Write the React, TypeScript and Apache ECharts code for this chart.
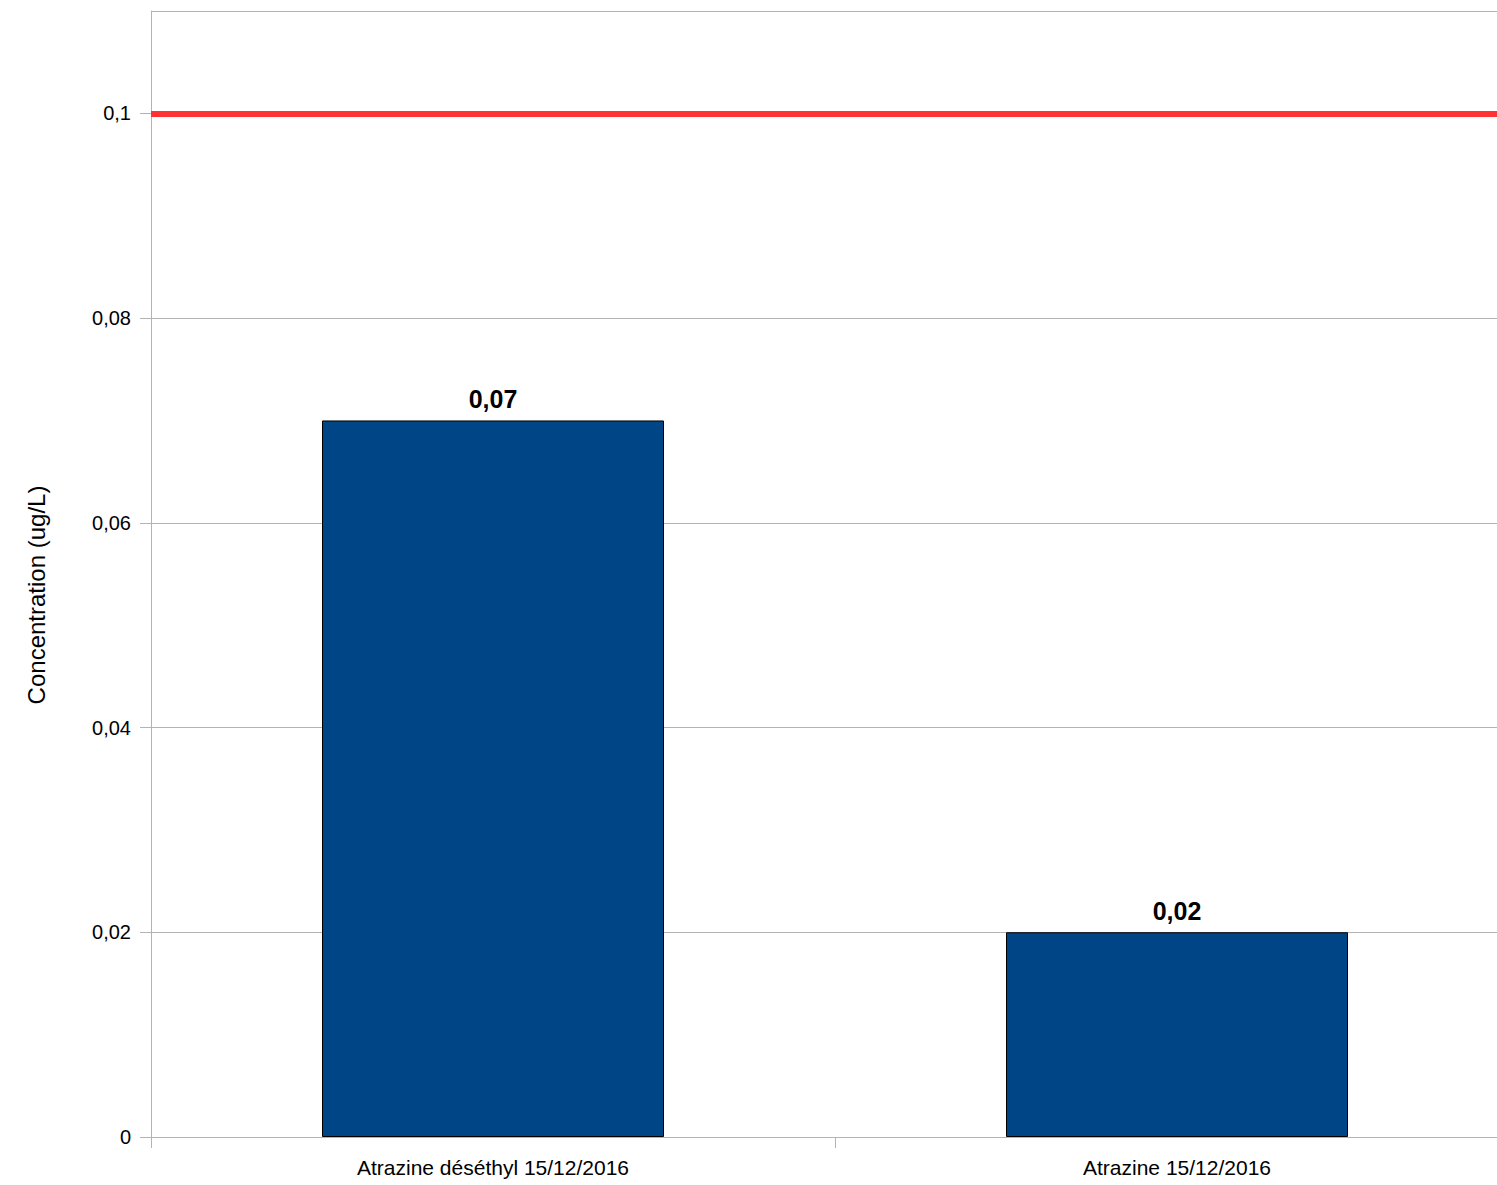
import React, { useEffect, useRef } from "react";
import * as echarts from "echarts";

const categories = ["Atrazine déséthyl 15/12/2016", "Atrazine 15/12/2016"];
const concentrations = [0.07, 0.02];
const thresholdValue = 0.1;
const yMin = 0;
const yMax = 0.11;
const yInterval = 0.02;
const yAxisTitle = "Concentration (ug/L)";

const fmt = (v: number) => String(parseFloat(Number(v).toFixed(4))).replace(".", ",");

export default function App() {
  const ref = useRef<HTMLDivElement>(null);
  useEffect(() => {
    if (!ref.current) return;
    const chart = echarts.init(ref.current, undefined, { renderer: "svg" });
    const font = "'Liberation Sans', Arial, sans-serif";
    chart.setOption({
      animation: false,
      backgroundColor: "#ffffff",
      grid: { left: 151, top: 11, bottom: 48, right: 0, containLabel: false },
      graphic: [
        {
          type: "text",
          x: 36,
          y: 595,
          rotation: Math.PI / 2,
          style: {
            text: yAxisTitle,
            fill: "#000",
            font: `24px ${font}`,
            align: "center",
            verticalAlign: "middle",
          },
        },
      ],
      xAxis: {
        type: "category",
        data: categories,
        axisLine: { lineStyle: { color: "#b3b3b3", width: 1 } },
        axisTick: { show: true, length: 11, lineStyle: { color: "#b3b3b3" } },
        axisLabel: { color: "#000", fontFamily: font, fontSize: 21, margin: 20 },
        splitLine: { show: false },
      },
      yAxis: {
        type: "value",
        min: yMin,
        max: yMax,
        interval: yInterval,
        axisLine: { show: true, lineStyle: { color: "#b3b3b3", width: 1 } },
        axisTick: { show: true, length: 11, lineStyle: { color: "#b3b3b3" } },
        axisLabel: {
          color: "#000",
          fontFamily: font,
          fontSize: 20,
          margin: 20,
          showMaxLabel: false,
          formatter: (v: number) => (v > 0.105 ? "" : fmt(v)),
        },
        splitLine: { show: true, lineStyle: { color: "#b3b3b3", width: 1 } },
      },
      series: [
        {
          type: "bar",
          data: concentrations,
          barWidth: "50%",
          itemStyle: { color: "#004586", borderColor: "#000000", borderWidth: 1 },
          label: {
            show: true,
            position: "top",
            distance: 9,
            color: "#000",
            fontFamily: font,
            fontSize: 25,
            fontWeight: "bold",
            formatter: (p: any) => fmt(p.value),
          },
          markLine: {
            silent: true,
            symbol: "none",
            label: { show: false },
            lineStyle: { color: "#ff3333", width: 6, type: "solid" },
            data: [{ yAxis: thresholdValue }],
          },
        },
      ],
    });
    return () => chart.dispose();
  }, []);
  return (
    <div style={{ position: "absolute", left: 0, top: 0, width: 1497, height: 1185, overflow: "hidden" }}>
      <div ref={ref} style={{ position: "absolute", left: 0, top: 0, width: 1519, height: 1185 }} />
    </div>
  );
}
